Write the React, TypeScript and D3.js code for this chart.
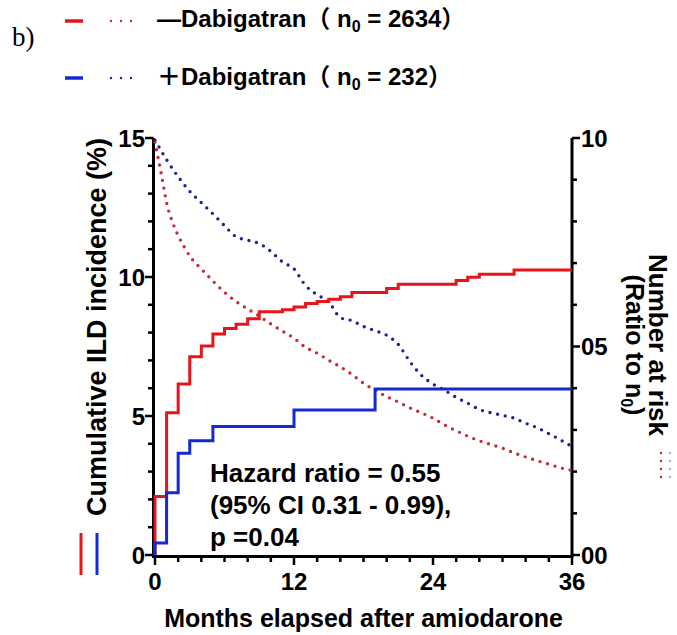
import * as d3 from 'd3';

const WIDTH = 677;
const HEIGHT = 635;
const BOUNDS = { left: 155, right: 572, top: 138, bottom: 555 };

const RED = '#e8141c';
const BLUE = '#1428d4';
const RED_DOT = '#c62c3c';
const BLUE_DOT = '#1c2396';
const FONT = 'Liberation Sans, Arial, Noto Sans CJK SC, sans-serif';

// cumulative ILD incidence (%), Kaplan-Meier steps
const redKmMonths = [0, 0, 1, 2, 3, 4, 5, 6, 7, 8, 9, 11, 12, 13, 14, 15, 16, 17, 20, 21, 26, 27, 28, 31, 36];
const redKmPct = [0, 2.1, 5.12, 6.15, 7.13, 7.52, 7.95, 8.15, 8.3, 8.5, 8.75, 8.82, 8.92, 9.05, 9.12, 9.2, 9.29, 9.44, 9.59, 9.74, 9.87, 9.99, 10.1, 10.25, 10.25];
const blueKmMonths = [0, 0, 1, 2, 3, 5, 12, 19, 36];
const blueKmPct = [0, 0.43, 2.24, 3.66, 4.11, 4.62, 5.22, 5.97, 5.97];

// number at risk (ratio to n0, right axis 0-10)
const redRiskMonths = [0, 0.25, 0.5, 0.75, 1, 1.5, 2, 2.5, 3, 4, 5, 6, 7, 8, 9, 10, 11, 12, 13, 14, 15, 16, 17, 18, 19, 20, 21, 22, 23, 24, 25, 26, 27, 28, 29, 30, 31, 32, 33, 34, 35, 36];
const redRisk = [9.9, 9.55, 9.2, 8.82, 8.45, 7.99, 7.66, 7.4, 7.17, 6.86, 6.57, 6.3, 6.08, 5.9, 5.73, 5.54, 5.37, 5.2, 4.98, 4.84, 4.67, 4.51, 4.33, 4.12, 3.95, 3.8, 3.67, 3.53, 3.41, 3.28, 3.12, 2.98, 2.85, 2.74, 2.65, 2.56, 2.45, 2.35, 2.26, 2.18, 2.09, 2.03];
const blueRiskMonths = [0, 1, 2, 3, 4, 5, 6, 7, 8, 9, 10, 11, 12, 13, 14, 15, 16, 17, 18, 19, 20, 21, 22, 23, 24, 25, 26, 27, 28, 29, 30, 31, 32, 33, 34, 35, 36];
const blueRisk = [9.95, 9.48, 9.07, 8.72, 8.45, 8.18, 7.9, 7.63, 7.55, 7.47, 7.28, 7.03, 6.86, 6.46, 6.24, 6.07, 5.69, 5.62, 5.48, 5.38, 5.27, 5.05, 4.64, 4.31, 4.1, 3.95, 3.78, 3.64, 3.49, 3.41, 3.35, 3.28, 3.16, 3.05, 2.91, 2.76, 2.6];

const xTicks = [0, 12, 24, 36];
const leftTicks = [0, 5, 10, 15];
const rightTicks = [0, 5, 10];
const rightTickLabels = ['00', '05', '10'];
const statsLines = ['Hazard ratio = 0.55', '(95% CI 0.31 - 0.99),', 'p =0.04'];

const zip = (a: number[], b: number[]) => a.map((v, i) => [v, b[i]] as [number, number]);

const App = () => {
  const xScale = d3.scaleLinear().domain([0, 36]).range([BOUNDS.left, BOUNDS.right]);
  const yLeft = d3.scaleLinear().domain([0, 15]).range([BOUNDS.bottom, BOUNDS.top]);
  const yRight = d3.scaleLinear().domain([0, 10]).range([BOUNDS.bottom, BOUNDS.top]);

  const kmLine = d3
    .line<[number, number]>()
    .x((d) => xScale(d[0]))
    .y((d) => yLeft(d[1]))
    .curve(d3.curveStepAfter);

  const riskLine = d3
    .line<[number, number]>()
    .x((d) => xScale(d[0]))
    .y((d) => yRight(d[1]))
    .curve(d3.curveMonotoneX);

  const dots = { strokeDasharray: '0 7.8', strokeLinecap: 'round' as const, strokeWidth: 3.4 };

  // minor ticks
  const xMinor = d3.range(0, 37, 2);
  const leftMinor = yLeft.ticks(15);
  const rightMinor = yRight.ticks(10);

  return (
    <svg width={WIDTH} height={HEIGHT} style={{ position: 'absolute', left: 0, top: 0 }} fontFamily={FONT}>
      <rect width={WIDTH} height={HEIGHT} fill="#fff" />

      {/* legend */}
      <text x={12} y={46} fontFamily="Liberation Serif, Times New Roman, serif" fontSize={27}>
        b)
      </text>
      <line x1={65} x2={83} y1={21} y2={21} stroke={RED} strokeWidth={3.5} />
      <line x1={111} x2={133} y1={21} y2={21} stroke={RED_DOT} {...dots} strokeWidth={2.4} strokeDasharray="0 10" />
      <text x={157} y={27} fontSize={24} fontWeight="bold">
        —Dabigatran（ n<tspan fontSize={16} dy={5}>0</tspan>
        <tspan dy={-5}> = 2634）</tspan>
      </text>
      <line x1={65} x2={83} y1={78} y2={78} stroke={BLUE} strokeWidth={3.5} />
      <line x1={111} x2={133} y1={78} y2={78} stroke={BLUE_DOT} {...dots} strokeWidth={2.4} strokeDasharray="0 10" />
      <text x={157} y={85} fontSize={24} fontWeight="bold">
        ＋Dabigatran（ n<tspan fontSize={16} dy={5}>0</tspan>
        <tspan dy={-5}> = 232）</tspan>
      </text>

      {/* axes */}
      <g stroke="#000" strokeWidth={2.5}>
        <line x1={BOUNDS.left - 1.5} x2={BOUNDS.left - 1.5} y1={BOUNDS.top} y2={BOUNDS.bottom + 1.5} strokeWidth={3} />
        <line x1={BOUNDS.right} x2={BOUNDS.right} y1={BOUNDS.top} y2={BOUNDS.bottom + 1.5} strokeWidth={3} />
        <line x1={BOUNDS.left - 3} x2={BOUNDS.right + 1.5} y1={BOUNDS.bottom + 1.5} y2={BOUNDS.bottom + 1.5} strokeWidth={3} />
        {leftMinor.map((v) => (
          <line key={`l${v}`} x1={BOUNDS.left - 1.5} x2={BOUNDS.left - (v % 5 === 0 ? 10 : 7)} y1={yLeft(v)} y2={yLeft(v)} />
        ))}
        {rightMinor.map((v) => (
          <line key={`r${v}`} x1={BOUNDS.right} x2={BOUNDS.right + (v % 5 === 0 ? 8 : 5)} y1={yRight(v)} y2={yRight(v)} />
        ))}
        {xMinor.map((v) => (
          <line key={`x${v}`} x1={xScale(v)} x2={xScale(v)} y1={BOUNDS.bottom + 1.5} y2={BOUNDS.bottom + (v % 12 === 0 ? 10 : 7)} />
        ))}
      </g>

      {leftTicks.map((v) => (
        <text key={v} x={BOUNDS.left - 10} y={yLeft(v)} dy="0.36em" textAnchor="end" fontSize={24} fontWeight="bold">
          {v}
        </text>
      ))}
      {rightTicks.map((v, i) => (
        <text key={v} x={BOUNDS.right + 9} y={yRight(v)} dy="0.36em" fontSize={24} fontWeight="bold">
          {rightTickLabels[i]}
        </text>
      ))}
      {xTicks.map((v) => (
        <text key={v} x={xScale(v)} y={590} textAnchor="middle" fontSize={24} fontWeight="bold">
          {v}
        </text>
      ))}

      {/* axis titles */}
      <text x={(BOUNDS.left + BOUNDS.right) / 2} y={627} textAnchor="middle" fontSize={25} fontWeight="bold">
        Months elapsed after amiodarone
      </text>
      <text transform="translate(106,327) rotate(-90)" textAnchor="middle" fontSize={27} fontWeight="bold">
        Cumulative ILD incidence (%)
      </text>
      <text transform="translate(649,345) rotate(90)" textAnchor="middle" fontSize={26} fontWeight="bold">
        Number at risk
      </text>
      <text transform="translate(626,345) rotate(90)" textAnchor="middle" fontSize={25} fontWeight="bold">
        (Ratio to n<tspan fontSize={16} dy={5}>0</tspan>
        <tspan dy={-5}>)</tspan>
      </text>

      {/* side keys */}
      <line x1={81} x2={81} y1={533} y2={575} stroke={RED} strokeWidth={3} />
      <line x1={97} x2={97} y1={533} y2={575} stroke={BLUE} strokeWidth={3} />
      <line x1={661} x2={661} y1={453} y2={482} stroke={RED_DOT} {...dots} strokeWidth={2.4} strokeDasharray="0 8" />
      <line x1={670} x2={670} y1={453} y2={482} stroke={BLUE_DOT} {...dots} strokeWidth={2.4} strokeDasharray="0 8" opacity={0.35} />

      {/* number at risk */}
      <path d={riskLine(zip(redRiskMonths, redRisk)) ?? ''} fill="none" stroke={RED_DOT} {...dots} />
      <path d={riskLine(zip(blueRiskMonths, blueRisk)) ?? ''} fill="none" stroke={BLUE_DOT} {...dots} />

      {/* cumulative incidence */}
      <path d={kmLine(zip(redKmMonths, redKmPct)) ?? ''} fill="none" stroke={RED} strokeWidth={3} />
      <path d={kmLine(zip(blueKmMonths, blueKmPct)) ?? ''} fill="none" stroke={BLUE} strokeWidth={3} />

      {statsLines.map((s, i) => (
        <text key={i} x={210} y={482 + i * 32} fontSize={26} fontWeight="bold">
          {s}
        </text>
      ))}
    </svg>
  );
};

export default App;
